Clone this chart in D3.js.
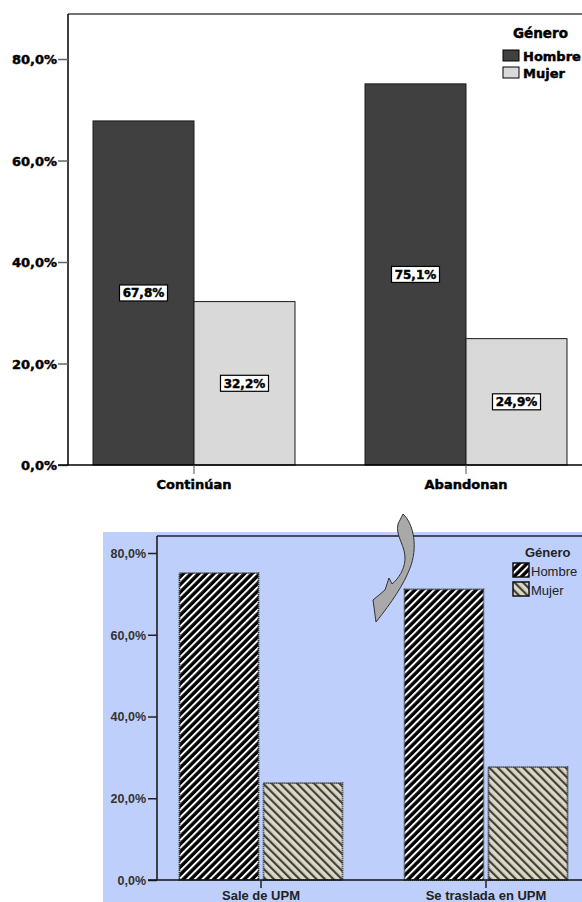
<!DOCTYPE html>
<html><head><meta charset="utf-8">
<script src="https://cdn.jsdelivr.net/npm/d3@7"></script>
<style>html,body{margin:0;padding:0;background:#fff;}svg{display:block;}</style>
</head><body>
<script>
// ---- data ----
const genders = ["Hombre", "Mujer"];
const topCategories = ["Continúan", "Abandonan"];
const topHombre = [67.8, 75.1];
const topMujer = [32.2, 24.9];
const bottomCategories = ["Sale de UPM", "Se traslada en UPM"];
const bottomHombre = [75.1, 71.1];
const bottomMujer = [23.7, 27.6];
const yTicks = [0, 20, 40, 60, 80];
const legendTitle = "Género";

const fmt = v => d3.format(".1f")(v).replace(".", ",") + "%";

const svg = d3.select("body").append("svg").attr("width", 582).attr("height", 902);
const defs = svg.append("defs");

// hatch patterns
const pH = defs.append("pattern").attr("id", "hatchH").attr("patternUnits", "userSpaceOnUse")
  .attr("width", 5.4).attr("height", 5.4).attr("patternTransform", "rotate(45)");
pH.append("rect").attr("width", 5.4).attr("height", 5.4).attr("fill", "#000");
pH.append("rect").attr("width", 2).attr("height", 5.4).attr("fill", "#fff");
const pM = defs.append("pattern").attr("id", "hatchM").attr("patternUnits", "userSpaceOnUse")
  .attr("width", 6).attr("height", 6).attr("patternTransform", "rotate(-45)");
pM.append("rect").attr("width", 6).attr("height", 6).attr("fill", "#ddd8c2");
pM.append("rect").attr("width", 2.2).attr("height", 6).attr("fill", "#404040");

// ================= TOP CHART =================
const topFont = "'DejaVu Sans', sans-serif";
const heavy = sel => sel.attr("stroke", "#000").attr("stroke-width", 0.45).attr("paint-order", "stroke");
const topData = topCategories.map((c, i) => ({cat: c, vals: [topHombre[i], topMujer[i]]}));
const xT = d3.scaleBand().domain(topCategories).range([58, 602]);
const xTs = d3.scaleBand().domain(genders).range([35, 237]);
const yT = d3.scaleLinear().domain([0, 88.87]).range([465, 14]);
const topColors = {Hombre: "#404040", Mujer: "#d9d9d9"};

const gT = svg.append("g");
gT.append("line").attr("x1", 68).attr("x2", 582).attr("y1", yT.range()[1]).attr("y2", yT.range()[1])
  .attr("stroke", "#444").attr("stroke-width", 1.5);

topData.forEach(d => {
  const g = gT.append("g").attr("transform", `translate(${xT(d.cat)},0)`);
  genders.forEach((gn, j) => {
    const v = d.vals[j];
    g.append("rect").attr("x", xTs(gn)).attr("width", xTs.bandwidth())
      .attr("y", yT(v)).attr("height", yT(0) - yT(v))
      .attr("fill", topColors[gn]).attr("stroke", "#1a1a1a").attr("stroke-width", 1);
  });
  genders.forEach((gn, j) => {
    const v = d.vals[j];
    const cx = xTs(gn) + xTs.bandwidth() / 2, cy = yT(v / 2);
    g.append("rect").attr("x", cx - 24).attr("y", cy - 8).attr("width", 48).attr("height", 16)
      .attr("fill", "#fff").attr("stroke", "#000").attr("stroke-width", 1.2);
    g.append("text").attr("x", cx).attr("y", cy + 4.5).attr("text-anchor", "middle")
      .attr("font-family", topFont).attr("font-weight", "bold").attr("font-size", 12)
      .attr("fill", "#000").call(heavy).text(fmt(v));
  });
});

const yAxT = gT.append("g").attr("transform", "translate(68,0)")
  .call(d3.axisLeft(yT).tickValues(yTicks).tickFormat(fmt).tickSize(10).tickPadding(1));
yAxT.select(".domain").attr("stroke", "#000").attr("stroke-width", 1.5).attr("d", `M0,${yT(0)}V${yT.range()[1]}`);
yAxT.selectAll(".tick line").attr("stroke", "#666").attr("stroke-width", 1.5);
yAxT.selectAll(".tick text").attr("font-family", topFont).attr("font-weight", "bold")
  .attr("font-size", 13).attr("fill", "#000").attr("dy", "0.35em").call(heavy);

const xAxT = gT.append("g").attr("transform", `translate(0,${yT(0)})`)
  .call(d3.axisBottom(xT).tickSize(9).tickPadding(6));
xAxT.select(".domain").attr("stroke", "#000").attr("stroke-width", 1.5).attr("d", "M58,0H582");
xAxT.selectAll(".tick line").attr("stroke", "#555");
xAxT.selectAll(".tick text").attr("font-family", topFont).attr("font-weight", "bold")
  .attr("font-size", 13).attr("fill", "#000").call(heavy);

const lgT = gT.append("g").attr("transform", "translate(503,38)");
lgT.append("text").attr("x", 10).attr("y", 0).attr("font-family", topFont).attr("font-weight", "bold")
  .attr("font-size", 13.5).attr("fill", "#000").call(heavy).text(legendTitle);
genders.forEach((gn, j) => {
  const yy = 12 + j * 17;
  lgT.append("rect").attr("x", 0).attr("y", yy).attr("width", 16).attr("height", 11)
    .attr("fill", topColors[gn]).attr("stroke", "#000").attr("stroke-width", 1);
  lgT.append("text").attr("x", 20).attr("y", yy + 11).attr("font-family", topFont).attr("font-weight", "bold")
    .attr("font-size", 13).attr("fill", "#000").call(heavy).text(gn);
});

// ================= BOTTOM CHART =================
const botFont = "'Liberation Sans', Arial, sans-serif";
const botData = bottomCategories.map((c, i) => ({cat: c, vals: [bottomHombre[i], bottomMujer[i]]}));
const xB = d3.scaleBand().domain(bottomCategories).range([148.5, 598.5]);
const xBs = d3.scaleBand().domain(genders).range([31, 194]).paddingInner(0.06);
const yB = d3.scaleLinear().domain([0, 84.16]).range([880, 536]);
const botFill = {Hombre: "url(#hatchH)", Mujer: "url(#hatchM)"};

const gB = svg.append("g");
gB.append("rect").attr("x", 103).attr("y", 532).attr("width", 479).attr("height", 370).attr("fill", "#bdcffa");
gB.append("line").attr("x1", 157).attr("x2", 582).attr("y1", yB.range()[1]).attr("y2", yB.range()[1])
  .attr("stroke", "#222").attr("stroke-width", 1.5);

botData.forEach(d => {
  const g = gB.append("g").attr("transform", `translate(${xB(d.cat)},0)`);
  genders.forEach((gn, j) => {
    const v = d.vals[j];
    g.append("rect").attr("x", xBs(gn)).attr("width", xBs.bandwidth())
      .attr("y", yB(v)).attr("height", yB(0) - yB(v))
      .attr("fill", botFill[gn]).attr("stroke", "#333").attr("stroke-width", 1.8)
      .attr("stroke-dasharray", "1.2,0.8");
  });
});

const yAxB = gB.append("g").attr("transform", "translate(157,0)")
  .call(d3.axisLeft(yB).tickValues(yTicks).tickFormat(fmt).tickSize(9).tickPadding(2));
yAxB.select(".domain").attr("stroke", "#111").attr("stroke-width", 1.5).attr("d", `M0,${yB(0)}V${yB.range()[1]}`);
yAxB.selectAll(".tick line").attr("stroke", "#222").attr("stroke-width", 1.5);
yAxB.selectAll(".tick text").attr("font-family", botFont).attr("font-weight", "bold")
  .attr("font-size", 12.5).attr("fill", "#333").attr("dy", "0.35em");

const xAxB = gB.append("g").attr("transform", `translate(0,${yB(0)})`)
  .call(d3.axisBottom(xB).tickSize(8).tickPadding(3));
xAxB.select(".domain").attr("stroke", "#111").attr("stroke-width", 1.5).attr("d", "M148,0H582");
xAxB.selectAll(".tick line").attr("stroke", "#222").attr("stroke-width", 1.5);
xAxB.selectAll(".tick text").attr("font-family", botFont).attr("font-weight", "bold")
  .attr("font-size", 13).attr("fill", "#222");

const lgB = gB.append("g").attr("transform", "translate(513,557)");
lgB.append("text").attr("x", 12).attr("y", 0).attr("font-family", botFont).attr("font-weight", "bold")
  .attr("font-size", 13).attr("fill", "#222").text(legendTitle);
genders.forEach((gn, j) => {
  const yy = 6 + j * 19;
  lgB.append("rect").attr("x", 0).attr("y", yy).attr("width", 16).attr("height", 14)
    .attr("fill", botFill[gn]).attr("stroke", "#111").attr("stroke-width", 1.5);
  lgB.append("text").attr("x", 18).attr("y", yy + 13).attr("font-family", botFont)
    .attr("font-size", 13).attr("fill", "#222").text(gn);
});

// curved arrow
svg.append("path")
  .attr("d", "M403,514 C414,524 418,548 410,568 C404,584 392,602 376,622 L373,600 L385,590 L389,578 L392,584 C399,578 404,570 405,560 C406,546 395,536 398,524 Z")
  .attr("fill", "#a9a9a9").attr("stroke", "#333").attr("stroke-width", 1);
</script>
</body></html>
